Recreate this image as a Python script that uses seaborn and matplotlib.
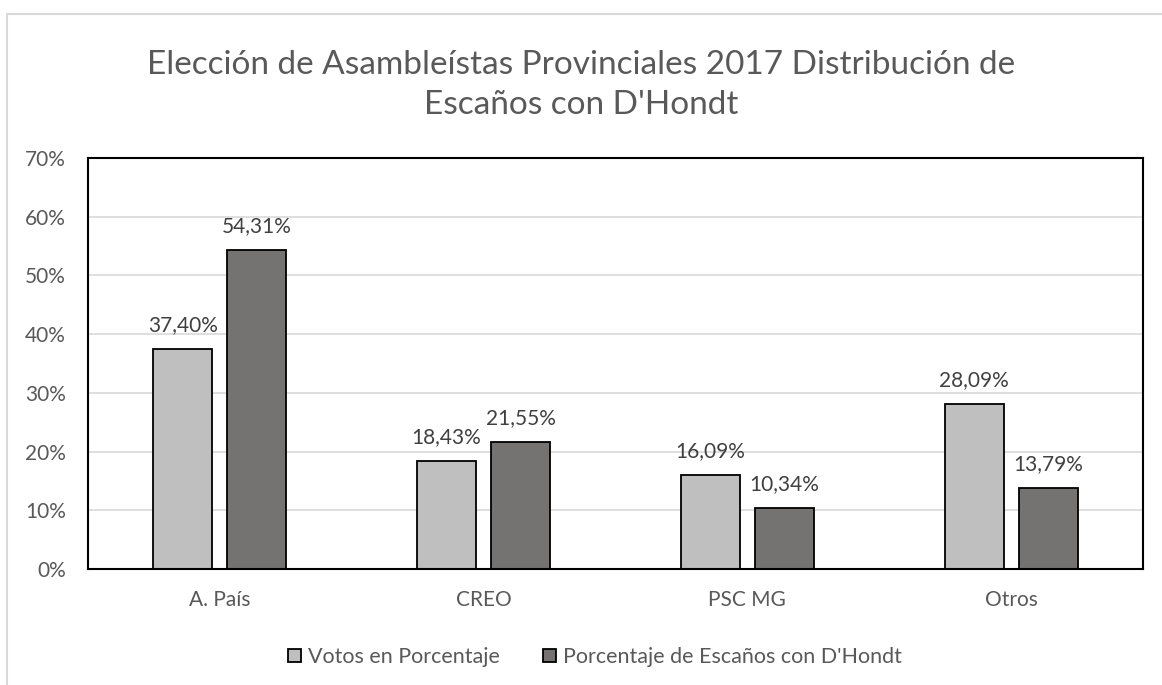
import pandas as pd
import matplotlib.pyplot as plt
import seaborn as sns
from matplotlib.lines import Line2D
from matplotlib.ticker import PercentFormatter

# Datos del gráfico
partidos = ['A. País', 'CREO', 'PSC MG', 'Otros']
votos = [0.3740, 0.1843, 0.1609, 0.2809]
escanos = [0.5431, 0.2155, 0.1034, 0.1379]
series = ['Votos en Porcentaje', "Porcentaje de Escaños con D'Hondt"]
colores = ['#BFBFBF', '#767171']

sns.set_style("white")
plt.rcParams['font.family'] = ['Lato', 'DejaVu Sans']

df = pd.DataFrame({
    'Partido': partidos * 2,
    'Valor': votos + escanos,
    'Serie': [series[0]] * 4 + [series[1]] * 4,
})

fig = plt.figure(figsize=(11.62, 6.85), dpi=100)
ax = fig.add_axes([88 / 1162, 1 - 569 / 685, (1143 - 88) / 1162, (569 - 158) / 685])

sns.barplot(data=df, x='Partido', y='Valor', hue='Serie', palette=colores,
            width=0.561, gap=0.2, edgecolor='black', linewidth=1.3, ax=ax)

ax.set_ylim(0, 0.7)
ax.set_xlim(-0.5, 3.5)
ax.yaxis.set_major_formatter(PercentFormatter(1.0, decimals=0))
ax.set_yticks([i / 10 for i in range(8)])
ax.grid(axis='y', color='#D9D9D9', linewidth=1.2)
ax.set_axisbelow(True)
ax.set_xlabel('')
ax.set_ylabel('')
for s in ax.spines.values():
    s.set_visible(True)
    s.set_color('black')
    s.set_linewidth(1.5)
ax.tick_params(axis='both', colors='#595959', labelsize=15, length=0)
ax.tick_params(axis='x', pad=15)
ax.tick_params(axis='y', pad=16)

# Etiquetas de datos
for cont in ax.containers:
    for barra in cont:
        h = barra.get_height()
        txt = f"{h * 100:.2f}%".replace('.', ',')
        ax.annotate(txt, (barra.get_x() + barra.get_width() / 2, h),
                    xytext=(0, 10), textcoords='offset points',
                    ha='center', va='bottom', fontsize=15, color='#404040')

ax.legend_.remove()
handles = [plt.Rectangle((0, 0), 1, 1, facecolor=c, edgecolor='black', linewidth=1.3) for c in colores]
fig.legend(handles, series, loc='center', bbox_to_anchor=(595 / 1162, 1 - 657 / 685),
           ncol=2, frameon=False, fontsize=15.5, handlelength=0.6, handleheight=0.6,
           handletextpad=0.35, columnspacing=2.0, labelcolor='#595959')

fig.text(0.5, 1 - 85 / 685,
         "Elección de Asambleístas Provinciales 2017 Distribución de\nEscaños con D'Hondt",
         ha='center', va='center', fontsize=24, color='#595959', linespacing=1.42)

# Borde del área del gráfico
fig.add_artist(Line2D([7 / 1162, 7 / 1162], [0, 1 - 14 / 685], transform=fig.transFigure,
                      color='#D9D9D9', linewidth=1.5))
fig.add_artist(Line2D([7 / 1162, 1], [1 - 14 / 685, 1 - 14 / 685], transform=fig.transFigure,
                      color='#D9D9D9', linewidth=1.5))

fig.savefig('out.png', dpi=100, facecolor='white')
